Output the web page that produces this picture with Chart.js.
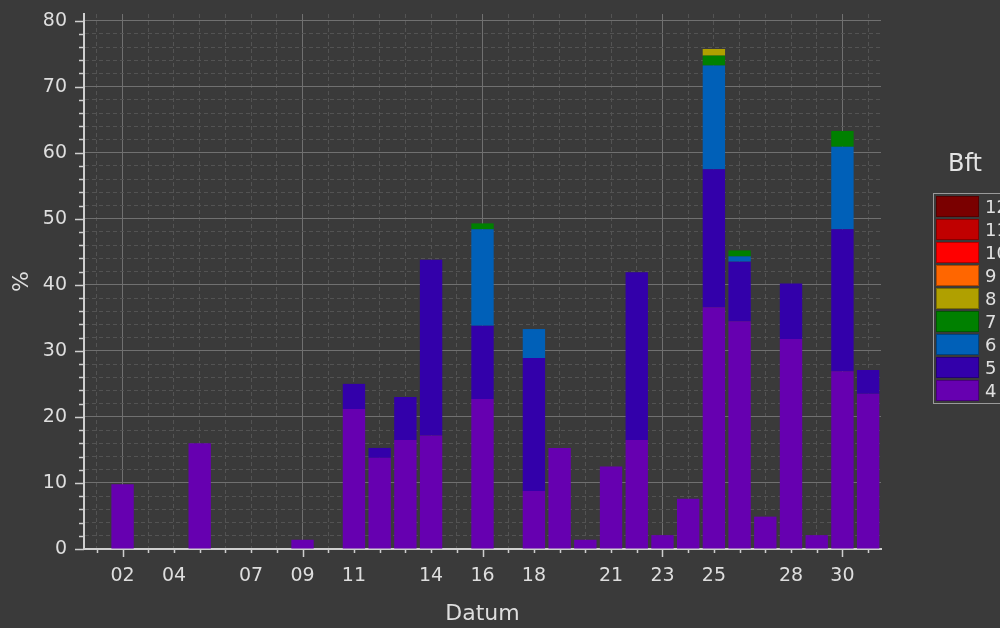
<!DOCTYPE html>
<html>
<head>
<meta charset="utf-8">
<script src="https://cdn.jsdelivr.net/npm/chart.js@4.4.0/dist/chart.umd.min.js"></script>
<style>
    html, body { margin: 0; padding: 0; background: #3a3a3a; overflow: hidden; }
    #wrap { position: relative; width: 1000px; height: 628px; }
    #legendTitle {
        position: absolute; left: 925px; width: 80px; top: 149px;
        text-align: center; font: 24px 'DejaVu Sans', sans-serif; color: #e4e4e4; line-height: 28px;
    }
    #legend {
        position: absolute; left: 933px; top: 193px; width: 90px;
        border: 1px solid #9a9a9a; padding: 2px 0 0 2px; box-sizing: border-box;
    }
    .row { display: flex; align-items: center; height: 21px; margin-bottom: 2px; }
    .sw { width: 43px; height: 21px; box-sizing: border-box; border: 1px solid rgba(0,0,0,0.3); }
    .lbl { margin-left: 6px; font: 18px 'DejaVu Sans', sans-serif; color: #e0e0e0; }
</style>
</head>
<body>
<div id="wrap">
    <canvas id="chart"></canvas>
    <div id="legendTitle">Bft</div>
    <div id="legend"></div>
</div>
<script>
// day of month categories
const days = ['01','02','03','04','05','06','07','08','09','10','11','12','13','14','15','16',
              '17','18','19','20','21','22','23','24','25','26','27','28','29','30','31'];
const shownTicks = ['02','04','07','09','11','14','16','18','21','23','25','28','30'];
const weekTicks = ['02','09','16','23','30'];

// % per Beaufort class (stacked segments)
const bft4  = [0, 9.8, 0, 0, 16.0, 0, 0, 0, 1.4, 0, 21.2, 13.8, 16.5, 17.2, 0, 22.7, 0, 8.8, 15.3, 1.4, 12.5, 16.5, 2.1, 7.6, 36.6, 34.5, 4.9, 31.8, 2.1, 26.9, 23.5];
const bft5  = [0, 0, 0, 0, 0, 0, 0, 0, 0, 0, 3.8, 1.5, 6.5, 26.6, 0, 11.1, 0, 20.1, 0, 0, 0, 25.4, 0, 0, 20.9, 9.0, 0, 8.4, 0, 21.5, 3.6];
const bft6  = [0, 0, 0, 0, 0, 0, 0, 0, 0, 0, 0, 0, 0, 0, 0, 14.6, 0, 4.4, 0, 0, 0, 0, 0, 0, 15.7, 0.8, 0, 0, 0, 12.5, 0];
const bft7  = [0, 0, 0, 0, 0, 0, 0, 0, 0, 0, 0, 0, 0, 0, 0, 0.9, 0, 0, 0, 0, 0, 0, 0, 0, 1.5, 0.9, 0, 0, 0, 2.4, 0];
const bft8  = [0, 0, 0, 0, 0, 0, 0, 0, 0, 0, 0, 0, 0, 0, 0, 0, 0, 0, 0, 0, 0, 0, 0, 0, 1.0, 0, 0, 0, 0, 0, 0];
const bft9  = new Array(31).fill(0);
const bft10 = new Array(31).fill(0);
const bft11 = new Array(31).fill(0);
const bft12 = new Array(31).fill(0);

const bftNames  = ['4', '5', '6', '7', '8', '9', '10', '11', '12'];
const bftColors = ['#6600b0', '#3300aa', '#0060b8', '#008000', '#b0a000', '#ff6600', '#ff0000', '#c00000', '#7a0000'];
const bftValues = [bft4, bft5, bft6, bft7, bft8, bft9, bft10, bft11, bft12];

const textColor = '#dedede';
const axisColor = '#cfcfcf';
const majorGrid = '#707070';
const minorGrid = '#535353';
const fontFamily = "'DejaVu Sans', sans-serif";

// legend, top to bottom 12 .. 4
const legendBox = document.getElementById('legend');
for (let i = bftNames.length - 1; i >= 0; i--) {
    const row = document.createElement('div');
    row.className = 'row';
    row.innerHTML = `<div class="sw" style="background:${bftColors[i]}"></div><span class="lbl">${bftNames[i]}</span>`;
    legendBox.appendChild(row);
}

// short / long tick marks outside the plot
const tickMarks = {
    id: 'tickMarks',
    afterDraw(chart) {
        const ctx = chart.ctx;
        const xs = chart.scales.x, ys = chart.scales.y;
        ctx.save();
        ctx.strokeStyle = axisColor;
        ctx.lineWidth = 1.5;
        ctx.beginPath();
        xs.ticks.forEach((t, i) => {
            const px = Math.round(xs.getPixelForTick(i)) + 0.5;
            const len = weekTicks.includes(days[i]) ? 8 : 4;
            ctx.moveTo(px, xs.top);
            ctx.lineTo(px, xs.top + len);
        });
        ys.ticks.forEach((t, i) => {
            const py = Math.round(ys.getPixelForTick(i)) + 0.5;
            const len = t.value % 10 === 0 ? 9 : 5;
            ctx.moveTo(ys.right, py);
            ctx.lineTo(ys.right - len, py);
        });
        ctx.stroke();
        ctx.restore();
    }
};

new Chart(document.getElementById('chart'), {
    type: 'bar',
    data: {
        labels: days,
        datasets: bftValues.map((vals, i) => ({
            label: bftNames[i],
            data: vals,
            backgroundColor: bftColors[i],
            borderWidth: 0,
            barPercentage: 1,
            categoryPercentage: 0.87
        }))
    },
    options: {
        responsive: true,
        maintainAspectRatio: false,
        animation: false,
        layout: { padding: { left: 0, right: 119, top: 14, bottom: 0 } },
        plugins: {
            legend: { display: false },
            tooltip: { enabled: false }
        },
        scales: {
            x: {
                stacked: true,
                grid: {
                    offset: false,
                    drawTicks: true,
                    tickLength: 16,
                    tickColor: 'transparent',
                    color: ctx => (ctx.tick && weekTicks.includes(days[ctx.index])) ? majorGrid : minorGrid,
                    lineWidth: 1
                },
                border: {
                    color: axisColor,
                    width: 2,
                    dash: ctx => (ctx.tick && weekTicks.includes(days[ctx.index])) ? [] : [4, 3]
                },
                ticks: {
                    autoSkip: false,
                    maxRotation: 0,
                    padding: 0,
                    color: textColor,
                    font: { family: fontFamily, size: 19 },
                    callback: function(value, index) {
                        return shownTicks.includes(days[index]) ? days[index] : '';
                    }
                },
                title: {
                    display: true,
                    text: 'Datum',
                    color: textColor,
                    font: { family: fontFamily, size: 22 },
                    padding: { top: 0, bottom: 1 }
                },
                afterFit: scale => { scale.height = 79; }
            },
            y: {
                stacked: true,
                min: 0,
                max: 81,
                grid: {
                    drawTicks: true,
                    tickLength: 17,
                    tickColor: 'transparent',
                    color: ctx => (ctx.tick && ctx.tick.value % 10 === 0) ? majorGrid : minorGrid,
                    lineWidth: 1
                },
                border: {
                    color: axisColor,
                    width: 2,
                    dash: ctx => (ctx.tick && ctx.tick.value % 10 === 0) ? [] : [4, 3]
                },
                ticks: {
                    stepSize: 2,
                    includeBounds: false,
                    autoSkip: false,
                    padding: 0,
                    color: textColor,
                    font: { family: fontFamily, size: 19 },
                    callback: value => value % 10 === 0 ? value : ''
                },
                afterBuildTicks: scale => {
                    scale.ticks = scale.ticks.filter(t => t.value % 2 === 0 && t.value <= 80);
                },
                title: {
                    display: true,
                    text: '%',
                    color: textColor,
                    font: { family: fontFamily, size: 22 },
                    padding: { top: 9, bottom: 0 }
                },
                afterFit: scale => { scale.width = 84; }
            }
        }
    },
    plugins: [tickMarks]
});
</script>
</body>
</html>
